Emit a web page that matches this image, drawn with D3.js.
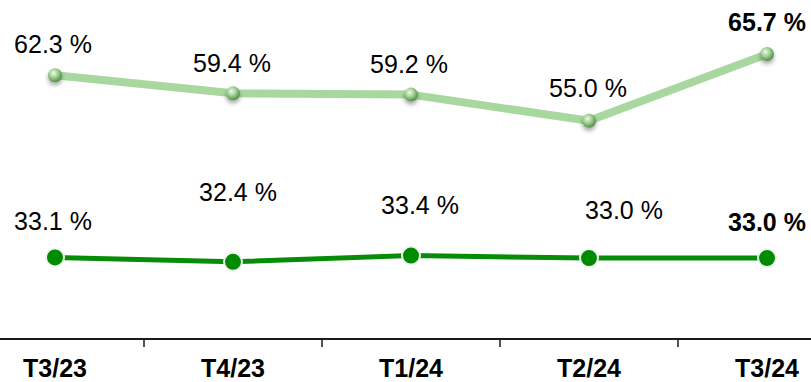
<!DOCTYPE html>
<html>
<head>
<meta charset="utf-8">
<script src="https://cdn.jsdelivr.net/npm/d3@7"></script>
<style>
  html, body { margin: 0; padding: 0; background: #fff; }
  svg { display: block; }
</style>
</head>
<body>
<svg id="chart" width="811" height="382"></svg>
<script>
// ---- data ----
const categories = ["T3/23", "T4/23", "T1/24", "T2/24", "T3/24"];
const seriesTop = [62.3, 59.4, 59.2, 55.0, 65.7];
const seriesBottom = [33.1, 32.4, 33.4, 33.0, 33.0];
const labelsTop = ["62.3 %", "59.4 %", "59.2 %", "55.0 %", "65.7 %"];
const labelsBottom = ["33.1 %", "32.4 %", "33.4 %", "33.0 %", "33.0 %"];
// label offsets (manual placement, as in the original)
const topLabelDx = [-2, -1, -2, -1, 0];
const topLabelDy = [-31, -30, -31, -33, -32];
const bottomLabelDx = [-2, 5, 9, 35, 0];
const bottomLabelDy = [-36, -70, -51, -48, -36];
const boldIndex = 4;

// ---- layout ----
const W = 811, H = 382;
const axisY = 339;
const svg = d3.select("#chart");

const x = d3.scaleBand().domain(categories).range([-34, 856]).padding(0);
const y = d3.scaleLinear().domain([0, 70]).range([464, 27.2]);
const cx = c => x(c) + x.bandwidth() / 2;

const defs = svg.append("defs");
const grad = defs.append("radialGradient").attr("id", "ball")
  .attr("cx", "40%").attr("cy", "35%").attr("r", "65%");
grad.append("stop").attr("offset", "0%").attr("stop-color", "#eef8ea");
grad.append("stop").attr("offset", "45%").attr("stop-color", "#a6d39a");
grad.append("stop").attr("offset", "100%").attr("stop-color", "#4f8f45");
const sh = defs.append("filter").attr("id", "shadow")
  .attr("x", "-100%").attr("y", "-100%").attr("width", "300%").attr("height", "300%");
sh.append("feDropShadow").attr("dx", 0).attr("dy", 3).attr("stdDeviation", 2.2)
  .attr("flood-color", "#000").attr("flood-opacity", 0.35);

// ---- axis ----
const axis = d3.axisBottom(x).tickSize(0).tickPadding(20);
const gAxis = svg.append("g").attr("transform", `translate(0,${axisY})`).call(axis);
gAxis.select(".domain").remove();
gAxis.selectAll("text")
  .attr("font-family", "'Liberation Sans', Arial, sans-serif")
  .attr("font-size", 25).attr("font-weight", "bold").attr("fill", "#000");
gAxis.append("line").attr("x1", 0).attr("x2", W).attr("y1", 0).attr("y2", 0)
  .attr("stroke", "#1a1a1a").attr("stroke-width", 2.2);
gAxis.selectAll(".sep").data(categories.slice(1)).enter().append("line")
  .attr("class", "sep")
  .attr("x1", d => x(d)).attr("x2", d => x(d)).attr("y1", 0).attr("y2", 8)
  .attr("stroke", "#1a1a1a").attr("stroke-width", 1.5);

// ---- lines ----
const line = d3.line().x((d, i) => cx(categories[i])).y(d => y(d));

svg.append("path").datum(seriesTop).attr("d", line)
  .attr("fill", "none").attr("stroke", "#a8d8a0").attr("stroke-width", 8)
  .attr("stroke-linejoin", "round");
svg.append("path").datum(seriesBottom).attr("d", line)
  .attr("fill", "none").attr("stroke", "#078c07").attr("stroke-width", 5)
  .attr("stroke-linejoin", "round");

// markers
svg.selectAll(".mTop").data(seriesTop).enter().append("circle")
  .attr("class", "mTop")
  .attr("cx", (d, i) => cx(categories[i])).attr("cy", d => y(d))
  .attr("r", 7).attr("fill", "url(#ball)").attr("filter", "url(#shadow)");
svg.selectAll(".mBot").data(seriesBottom).enter().append("circle")
  .attr("class", "mBot")
  .attr("cx", (d, i) => cx(categories[i])).attr("cy", d => y(d))
  .attr("r", 9).attr("fill", "#008c00").attr("stroke", "#f2f2f2").attr("stroke-width", 2);

// labels
const font = "'Liberation Sans', Arial, sans-serif";
svg.selectAll(".lTop").data(seriesTop).enter().append("text")
  .attr("class", "lTop")
  .attr("x", (d, i) => cx(categories[i]) + topLabelDx[i])
  .attr("y", (d, i) => y(d) + topLabelDy[i])
  .attr("text-anchor", "middle").attr("dominant-baseline", "central")
  .attr("font-family", font).attr("font-size", 25)
  .attr("font-weight", (d, i) => i === boldIndex ? "bold" : "normal")
  .attr("fill", "#000")
  .text((d, i) => labelsTop[i]);
svg.selectAll(".lBot").data(seriesBottom).enter().append("text")
  .attr("class", "lBot")
  .attr("x", (d, i) => cx(categories[i]) + bottomLabelDx[i])
  .attr("y", (d, i) => y(d) + bottomLabelDy[i])
  .attr("text-anchor", "middle").attr("dominant-baseline", "central")
  .attr("font-family", font).attr("font-size", 25)
  .attr("font-weight", (d, i) => i === boldIndex ? "bold" : "normal")
  .attr("fill", "#000")
  .text((d, i) => labelsBottom[i]);
</script>
</body>
</html>
